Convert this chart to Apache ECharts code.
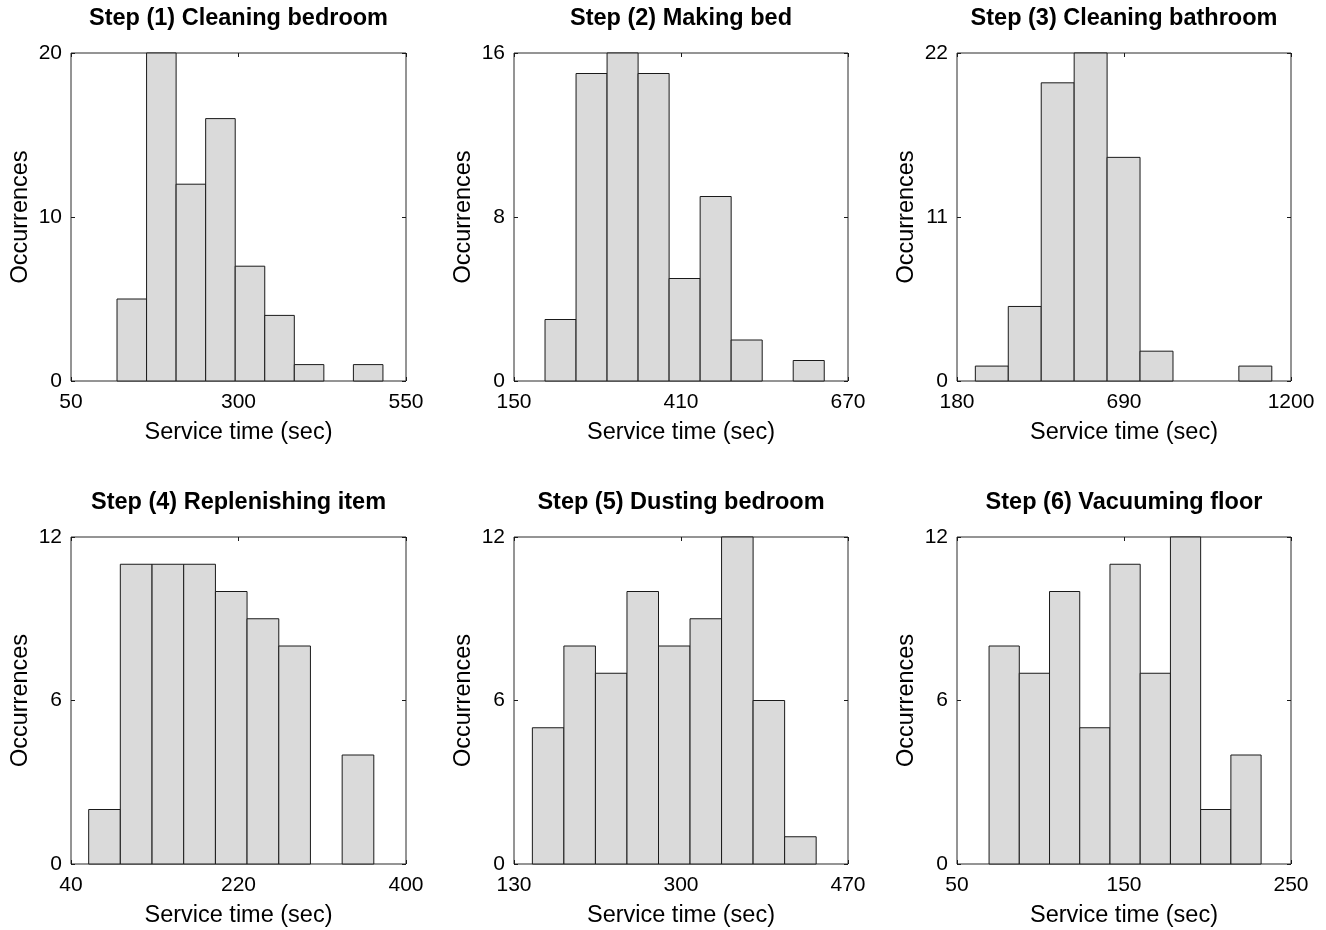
<!DOCTYPE html>
<html>
<head>
<meta charset="utf-8">
<script src="https://cdn.jsdelivr.net/npm/echarts@6/dist/echarts.min.js"></script>
<style>
html,body{margin:0;padding:0;background:#fff;}
#chart{width:1326px;height:930px;}
</style>
</head>
<body>
<div id="chart"></div>
<script>
// ---- Data ----
var titles = [
  'Step (1) Cleaning bedroom',
  'Step (2) Making bed',
  'Step (3) Cleaning bathroom',
  'Step (4) Replenishing item',
  'Step (5) Dusting bedroom',
  'Step (6) Vacuuming floor'
];
var xTickLabels1 = [50, 300, 550];
var xTickLabels2 = [150, 410, 670];
var xTickLabels3 = [180, 690, 1200];
var xTickLabels4 = [40, 220, 400];
var xTickLabels5 = [130, 300, 470];
var xTickLabels6 = [50, 150, 250];
var yTickLabels1 = [0, 10, 20];
var yTickLabels2 = [0, 8, 16];
var yTickLabels3 = [0, 11, 22];
var yTickLabels4 = [0, 6, 12];
var yTickLabels5 = [0, 6, 12];
var yTickLabels6 = [0, 6, 12];

var binEdges1 = [118.7, 162.8, 206.9, 251.0, 295.1, 339.2, 383.3, 427.4, 471.5, 515.6];
var counts1   = [5, 20, 12, 16, 7, 4, 1, 0, 1];
var binEdges2 = [198.3, 246.6, 294.9, 343.2, 391.5, 439.8, 488.1, 536.4, 584.7, 633.0];
var counts2   = [3, 15, 16, 15, 5, 9, 2, 0, 1];
var binEdges3 = [236.0, 336.6, 437.2, 537.8, 638.4, 739.0, 839.6, 940.2, 1040.8, 1141.4];
var counts3   = [1, 5, 20, 22, 15, 2, 0, 0, 1];
var binEdges4 = [59.0, 93.0, 127.1, 161.1, 195.2, 229.2, 263.3, 297.3, 331.4, 365.4];
var counts4   = [2, 11, 11, 11, 10, 9, 8, 0, 4];
var binEdges5 = [148.7, 180.8, 212.9, 245.0, 277.1, 309.2, 341.3, 373.4, 405.5, 437.6];
var counts5   = [5, 8, 7, 10, 8, 9, 12, 6, 1];
var binEdges6 = [69.2, 87.3, 105.4, 123.5, 141.6, 159.7, 177.8, 195.9, 214.0, 232.1];
var counts6   = [8, 7, 10, 5, 11, 7, 12, 2, 4];

var xLabel = 'Service time (sec)';
var yLabel = 'Occurrences';

// ---- Build chart ----
var panels = [
  {edges: binEdges1, counts: counts1, xt: xTickLabels1, yt: yTickLabels1},
  {edges: binEdges2, counts: counts2, xt: xTickLabels2, yt: yTickLabels2},
  {edges: binEdges3, counts: counts3, xt: xTickLabels3, yt: yTickLabels3},
  {edges: binEdges4, counts: counts4, xt: xTickLabels4, yt: yTickLabels4},
  {edges: binEdges5, counts: counts5, xt: xTickLabels5, yt: yTickLabels5},
  {edges: binEdges6, counts: counts6, xt: xTickLabels6, yt: yTickLabels6}
];
var gridLefts = [71, 514, 957];
var gridWidths = [335, 334, 334];
var gridTops = [53, 537];
var gridHeights = [328, 327];
var titleY = [19, 503];

var FONT = '"Liberation Sans", Arial, Helvetica, sans-serif';
var INK = '#1a1a1a';
function plain(v) { return String(v); }

var grids = [], xAxes = [], yAxes = [], series = [], graphics = [];
panels.forEach(function (p, i) {
  var col = i % 3, row = Math.floor(i / 3);
  grids.push({
    left: gridLefts[col], top: gridTops[row], width: gridWidths[col], height: gridHeights[row],
    show: true, borderColor: '#2a2a2a', borderWidth: 1, backgroundColor: '#fff', containLabel: false
  });
  var xmin = p.xt[0], xmax = p.xt[p.xt.length - 1];
  var ymax = p.yt[p.yt.length - 1];
  xAxes.push({
    type: 'value', gridIndex: i, position: 'bottom', min: xmin, max: xmax,
    axisLine: {show: false, onZero: false}, splitLine: {show: false},
    axisTick: {show: true, inside: true, length: 4, customValues: p.xt, lineStyle: {color: INK}},
    axisLabel: {customValues: p.xt, formatter: plain, margin: 11, fontSize: 21, color: '#000', fontFamily: FONT},
    name: xLabel, nameLocation: 'middle', nameGap: 40,
    nameTextStyle: {fontSize: 23.5, color: '#000', fontFamily: FONT}
  });
  xAxes.push({
    type: 'value', gridIndex: i, position: 'top', min: xmin, max: xmax,
    axisLine: {show: false, onZero: false}, splitLine: {show: false},
    axisTick: {show: true, inside: true, length: 4, customValues: p.xt, lineStyle: {color: INK}},
    axisLabel: {show: false}
  });
  yAxes.push({
    type: 'value', gridIndex: i, position: 'left', min: 0, max: ymax, interval: ymax / 2,
    axisLine: {show: false, onZero: false}, splitLine: {show: false},
    axisTick: {show: true, inside: true, length: 4, lineStyle: {color: INK}},
    axisLabel: {formatter: plain, margin: 9, fontSize: 21, color: '#000', fontFamily: FONT},
    name: yLabel, nameLocation: 'middle', nameGap: 38, nameRotate: 90,
    nameTextStyle: {fontSize: 23.5, color: '#000', fontFamily: FONT}
  });
  yAxes.push({
    type: 'value', gridIndex: i, position: 'right', min: 0, max: ymax, interval: ymax / 2,
    axisLine: {show: false, onZero: false}, splitLine: {show: false},
    axisTick: {show: true, inside: true, length: 4, lineStyle: {color: INK}},
    axisLabel: {show: false}
  });
  var data = [];
  for (var k = 0; k < p.counts.length; k++) {
    data.push([p.edges[k], p.edges[k + 1], p.counts[k]]);
  }
  series.push({
    type: 'custom', xAxisIndex: 2 * i, yAxisIndex: 2 * i,
    encode: {x: [0, 1], y: 2},
    data: data, silent: true,
    renderItem: function (params, api) {
      var x0 = api.value(0), x1 = api.value(1), c = api.value(2);
      if (!c) return null;
      var a = api.coord([x0, c]);
      var b = api.coord([x1, 0]);
      return {
        type: 'rect',
        shape: {x: a[0], y: a[1], width: b[0] - a[0], height: b[1] - a[1]},
        style: {fill: '#dadada', stroke: INK, lineWidth: 1}
      };
    }
  });
  graphics.push({
    type: 'text', x: gridLefts[col] + gridWidths[col] / 2, y: titleY[row],
    style: {text: titles[i], textAlign: 'center', textVerticalAlign: 'middle',
      font: 'bold 23.5px ' + FONT, fill: '#000'}
  });
});

var chart = echarts.init(document.getElementById('chart'), null, {renderer: 'canvas'});
chart.setOption({
  animation: false,
  backgroundColor: '#fff',
  grid: grids, xAxis: xAxes, yAxis: yAxes, series: series, graphic: graphics
});
</script>
</body>
</html>
